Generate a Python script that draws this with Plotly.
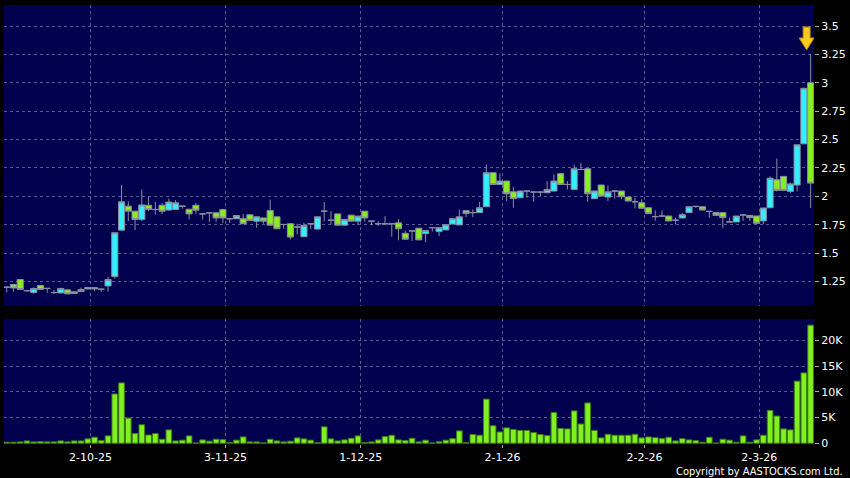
import pandas as pd
import plotly.graph_objects as go

# ---------------- data ----------------
holidays = ["2025-10-01", "2025-10-07", "2025-10-29", "2025-12-25", "2025-12-26",
            "2026-01-01", "2026-02-17", "2026-02-18", "2026-02-19"]
dates = [d.strftime("%Y-%m-%d") for d in pd.bdate_range("2025-09-15", "2026-03-12")
         if d.strftime("%Y-%m-%d") not in holidays]

open_ = [1.20, 1.224, 1.268, 1.17, 1.153, 1.215, 1.19, 1.153, 1.15, 1.177,
         1.145, 1.162, 1.185, 1.197, 1.183, 1.212, 1.294, 1.703, 1.914, 1.87,
         1.797, 1.922, 1.885, 1.922, 1.88, 1.885, 1.914, 1.887, 1.922, 1.846,
         1.855, 1.855, 1.884, 1.803, 1.803, 1.803, 1.838, 1.782, 1.81, 1.876,
         1.82, 1.753, 1.759, 1.73, 1.645, 1.759, 1.712, 1.87, 1.79, 1.846,
         1.747, 1.835, 1.782, 1.87, 1.782, 1.759, 1.759, 1.759, 1.767, 1.675,
         1.696, 1.72, 1.672, 1.725, 1.69, 1.705, 1.757, 1.749, 1.874, 1.857,
         1.857, 1.909, 2.208, 2.105, 2.135, 2.04, 1.988, 2.047, 2.038, 2.038,
         2.032, 2.047, 2.2, 2.105, 2.061, 2.237, 2.243, 1.98, 2.10, 1.994,
         2.047, 2.047, 1.994, 1.953, 1.944, 1.90, 1.822, 1.827, 1.827, 1.79,
         1.81, 1.857, 1.912, 1.909, 1.868, 1.857, 1.857, 1.775, 1.775, 1.836,
         1.833, 1.827, 1.784, 1.90, 2.146, 2.176, 2.044, 2.10, 2.463, 3.0]

high = [1.21, 1.23, 1.27, 1.178, 1.20, 1.218, 1.192, 1.175, 1.192, 1.18,
        1.162, 1.197, 1.20, 1.20, 1.185, 1.294, 1.68, 2.10, 1.957, 1.872,
        2.06, 1.995, 1.952, 1.94, 1.98, 1.967, 1.916, 1.89, 1.943, 1.848,
        1.857, 1.86, 1.89, 1.805, 1.835, 1.846, 1.84, 1.825, 1.812, 1.972,
        1.822, 1.755, 1.765, 1.759, 1.767, 1.761, 1.822, 1.95, 1.87, 1.848,
        1.80, 1.838, 1.83, 1.872, 1.784, 1.782, 1.826, 1.761, 1.80, 1.70,
        1.698, 1.722, 1.702, 1.727, 1.727, 1.753, 1.806, 1.883, 1.876, 1.886,
        1.952, 2.28, 2.21, 2.202, 2.137, 2.085, 2.05, 2.049, 2.04, 2.04,
        2.134, 2.193, 2.202, 2.134, 2.281, 2.295, 2.245, 2.05, 2.102, 2.096,
        2.049, 2.049, 1.996, 1.988, 1.974, 1.902, 1.877, 1.877, 1.829, 1.813,
        1.855, 1.911, 1.914, 1.911, 1.87, 1.859, 1.859, 1.813, 1.829, 1.838,
        1.835, 1.829, 1.90, 2.176, 2.333, 2.178, 2.122, 2.456, 2.955, 3.254]

low = [1.155, 1.16, 1.178, 1.16, 1.143, 1.178, 1.153, 1.14, 1.148, 1.14,
       1.143, 1.16, 1.183, 1.165, 1.16, 1.16, 1.276, 1.70, 1.782, 1.703,
       1.782, 1.87, 1.84, 1.846, 1.875, 1.88, 1.89, 1.797, 1.846, 1.797,
       1.776, 1.776, 1.767, 1.767, 1.80, 1.757, 1.785, 1.723, 1.759, 1.745,
       1.712, 1.715, 1.62, 1.665, 1.643, 1.71, 1.71, 1.777, 1.753, 1.745,
       1.745, 1.78, 1.747, 1.776, 1.745, 1.74, 1.745, 1.645, 1.613, 1.62,
       1.608, 1.615, 1.598, 1.69, 1.65, 1.703, 1.755, 1.747, 1.818, 1.818,
       1.855, 1.907, 2.10, 2.10, 1.96, 1.90, 1.985, 1.988, 1.953, 2.003,
       2.03, 2.045, 2.103, 2.061, 2.059, 2.235, 1.953, 1.978, 2.0, 1.959,
       1.98, 1.974, 1.957, 1.895, 1.893, 1.846, 1.784, 1.818, 1.782, 1.755,
       1.808, 1.855, 1.898, 1.878, 1.813, 1.831, 1.72, 1.773, 1.773, 1.784,
       1.784, 1.755, 1.755, 1.898, 2.044, 2.05, 2.03, 2.044, 2.46, 1.897]

close = [1.20, 1.194, 1.18, 1.17, 1.189, 1.18, 1.19, 1.153, 1.19, 1.142,
         1.16, 1.18, 1.197, 1.185, 1.183, 1.268, 1.68, 1.952, 1.87, 1.797,
         1.925, 1.885, 1.885, 1.87, 1.95, 1.943, 1.914, 1.846, 1.879, 1.846,
         1.855, 1.81, 1.81, 1.803, 1.832, 1.759, 1.788, 1.82, 1.782, 1.747,
         1.715, 1.753, 1.642, 1.73, 1.744, 1.759, 1.82, 1.87, 1.79, 1.747,
         1.797, 1.782, 1.826, 1.81, 1.782, 1.759, 1.759, 1.759, 1.715, 1.623,
         1.696, 1.617, 1.70, 1.725, 1.725, 1.751, 1.804, 1.82, 1.85, 1.857,
         1.90, 2.208, 2.105, 2.135, 2.023, 1.98, 2.047, 2.047, 2.038, 2.038,
         2.061, 2.135, 2.105, 2.105, 2.243, 2.237, 2.023, 2.047, 2.003, 2.04,
         2.047, 1.997, 1.959, 1.953, 1.895, 1.848, 1.822, 1.827, 1.784, 1.79,
         1.839, 1.909, 1.912, 1.88, 1.868, 1.833, 1.813, 1.775, 1.827, 1.836,
         1.813, 1.763, 1.898, 2.16, 2.053, 2.053, 2.11, 2.454, 2.952, 2.117]

volume_k = [0.2, 0.2, 0.26, 0.45, 0.26, 0.3, 0.26, 0.26, 0.45, 0.26,
            0.45, 0.45, 0.85, 1.17, 0.52, 1.43, 9.6, 11.75, 4.9, 1.9,
            3.6, 1.6, 1.9, 0.78, 2.6, 0.45, 0.6, 1.43, 0.05, 0.65,
            0.4, 0.78, 0.7, 0.13, 0.6, 1.23, 0.26, 0.26, 0.06, 0.78,
            0.45, 0.26, 0.4, 1.04, 0.85, 0.6, 0.1, 3.2, 0.85, 0.45,
            0.65, 0.97, 1.43, 0.13, 0.26, 0.65, 1.3, 1.56, 0.65, 0.52,
            0.97, 0.26, 0.6, 0.06, 0.3, 0.6, 0.9, 2.4, 0.13, 1.7,
            1.56, 8.6, 3.4, 2.2, 3.0, 2.7, 2.5, 2.5, 2.1, 1.7,
            1.5, 6.0, 2.9, 2.8, 6.3, 3.75, 7.85, 2.5, 1.04, 1.75,
            1.56, 1.56, 1.56, 1.75, 1.04, 1.23, 1.1, 0.9, 1.17, 0.45,
            0.9, 0.65, 0.52, 0.2, 1.17, 0.05, 0.78, 0.6, 0.2, 1.43,
            0.2, 0.65, 1.56, 6.4, 5.3, 2.8, 2.6, 12.1, 13.7, 23.0]

x_tick_dates = ["2025-10-02", "2025-11-03", "2025-12-01", "2026-01-02", "2026-02-02", "2026-03-02"]
x_tick_text = ["2-10-25", "3-11-25", "1-12-25", "2-1-26", "2-2-26", "2-3-26"]
price_ticks = [1.25, 1.5, 1.75, 2.0, 2.25, 2.5, 2.75, 3.0, 3.25, 3.5]
price_tick_text = ["1.25", "1.5", "1.75", "2", "2.25", "2.5", "2.75", "3", "3.25", "3.5"]
vol_ticks = [0, 5, 10, 15, 20]
vol_tick_text = ["0", "5K", "10K", "15K", "20K"]

# ---------------- style ----------------
NAVY = "#00004f"
GRID = "#5a5a8c"
CYAN = "#33eeff"
LIME = "#88ee22"
EDGE = "#8c8c9c"
FONT = "DejaVu Sans"

fig = go.Figure()
fig.add_trace(go.Candlestick(
    x=dates, open=open_, high=high, low=low, close=close,
    increasing=dict(fillcolor=CYAN, line=dict(color=EDGE, width=1)),
    decreasing=dict(fillcolor=LIME, line=dict(color=EDGE, width=1)),
    whiskerwidth=0, xaxis="x", yaxis="y", showlegend=False, hoverinfo="skip"))
fig.add_trace(go.Bar(
    x=dates, y=volume_k, width=0.84,
    marker=dict(color="#80f020", line=dict(color="#3c7a12", width=1)),
    xaxis="x2", yaxis="y2", showlegend=False, hoverinfo="skip"))

# yellow arrow above the last candle (pixel-sized shape anchored to the last high)
fig.add_shape(type="path", xref="x", yref="y", xsizemode="pixel", ysizemode="pixel",
              xanchor=dates[-1], yanchor=high[-1],
              path="M -4,4 L -11.5,16 L -7.5,16 L -7.5,27 L -0.5,27 L -0.5,16 L 3.5,16 Z",
              fillcolor="#f8cc1c", line=dict(color="#c08010", width=1), layer="above")

W, H = 850, 478
L, R, T, B = 4, 36, 5, 34
ph = H - T - B
price_bottom = (H - B - 306) / ph
vol_top = (H - B - 319) / ph

# grid/tick positions sit slightly right of the day's candle, as in the source chart
tick_pos = [dates.index(d) + 0.4 for d in x_tick_dates]

xcommon = dict(type="category", categoryorder="array", categoryarray=dates,
               range=[-0.4, len(dates) - 0.5], showgrid=True, gridcolor=GRID, griddash="3px,3px",
               gridwidth=1, tickvals=tick_pos, ticktext=x_tick_text, zeroline=False,
               showline=False, rangeslider=dict(visible=False), fixedrange=True)

fig.update_layout(
    width=W, height=H,
    margin=dict(l=L, r=R, t=T, b=B, pad=0),
    paper_bgcolor="#000000", plot_bgcolor=NAVY,
    font=dict(family=FONT, size=11, color="#ffffff"),
    boxgap=0.05, boxgroupgap=0.05,
    xaxis=dict(**xcommon, anchor="y", domain=[0, 1], showticklabels=False, ticks=""),
    xaxis2=dict(**xcommon, anchor="y2", domain=[0, 1], matches="x", showticklabels=True,
                ticks="outside", ticklen=3, tickcolor="#aaaaaa",
                tickfont=dict(family=FONT, size=11, color="#ffffff")),
    yaxis=dict(domain=[price_bottom, 1], side="right", range=[1.035, 3.685],
               tickvals=price_ticks, ticktext=price_tick_text, showgrid=True, gridcolor=GRID,
               griddash="3px,3px", ticks="outside", ticklen=4, tickcolor="#aaaaaa",
               zeroline=False, showline=False, fixedrange=True,
               tickfont=dict(family=FONT, size=11, color="#ffffff")),
    yaxis2=dict(domain=[0, vol_top], side="right", range=[-0.15, 24.2],
                tickvals=vol_ticks, ticktext=vol_tick_text, showgrid=True, gridcolor=GRID,
                griddash="3px,3px", ticks="outside", ticklen=4, tickcolor="#aaaaaa",
                zeroline=False, showline=False, fixedrange=True,
                tickfont=dict(family=FONT, size=11, color="#ffffff")),
    annotations=[dict(text="Copyright by AASTOCKS.com Ltd.", xref="paper", yref="paper",
                      x=(845 - L) / (W - L - R), y=(H - B - 471) / ph, xanchor="right",
                      yanchor="middle", showarrow=False,
                      font=dict(family="DejaVu Sans Condensed, DejaVu Sans", size=11,
                                color="#ffffff"))],
)

fig.write_html("out.html", config={"displayModeBar": False},
               post_script="document.body.style.margin='0';document.body.style.padding='0';"
                           "document.body.style.background='#000';")
